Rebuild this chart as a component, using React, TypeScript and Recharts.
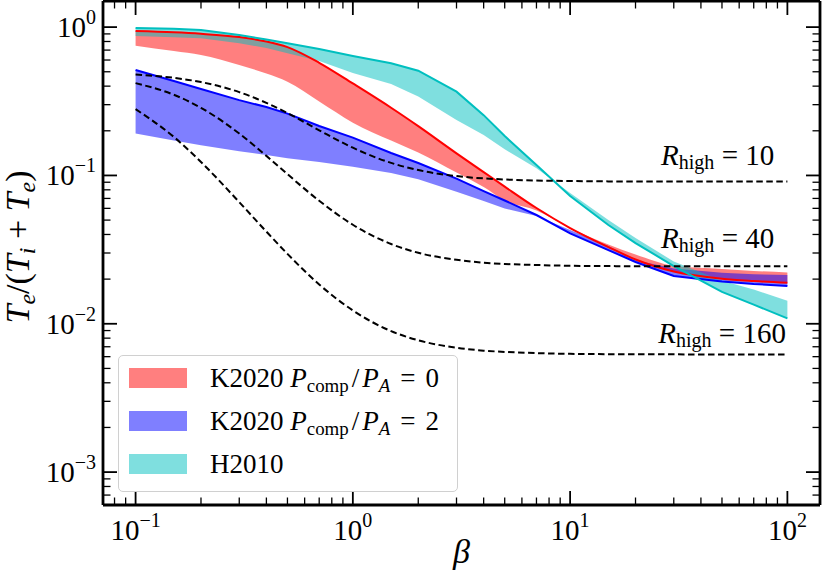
import React from "react";
import { ComposedChart, Area, Line, XAxis, YAxis, Legend, ReferenceDot } from "recharts";

// Te/(Ti+Te) against plasma beta, log-log, three model bands and three R_high curves

const SERIF = "'Liberation Serif', 'DejaVu Serif', serif";

const beta = [0.1, 0.15, 0.2, 0.3, 0.4, 0.5, 0.7, 1, 1.5, 2, 3, 4, 5, 7, 10, 15, 20, 30, 50, 70, 100];

// K2020, P_comp/P_A = 0 (red): solid edge and the other edge of the band
const k0Line = [0.941, 0.922, 0.901, 0.857, 0.8, 0.733, 0.575, 0.417, 0.286, 0.215, 0.141, 0.1054, 0.0841, 0.0603, 0.0442, 0.0329, 0.0271, 0.0225, 0.0201, 0.0194, 0.0189];
const k0Edge = [0.749, 0.689, 0.648, 0.555, 0.486, 0.428, 0.315, 0.227, 0.172, 0.1427, 0.1046, 0.0835, 0.0678, 0.058, 0.0442, 0.0342, 0.0293, 0.0246, 0.0234, 0.0227, 0.0222];

// K2020, P_comp/P_A = 2 (blue)
const k2Line = [0.514, 0.433, 0.383, 0.322, 0.289, 0.261, 0.2155, 0.18, 0.1416, 0.1213, 0.0953, 0.0785, 0.0678, 0.0541, 0.0407, 0.0314, 0.0261, 0.021, 0.0193, 0.01853, 0.018];
const k2Edge = [0.192, 0.172, 0.16, 0.1456, 0.1373, 0.1306, 0.123, 0.1146, 0.1038, 0.0941, 0.0777, 0.0672, 0.0598, 0.0532, 0.0428, 0.0334, 0.0268, 0.0236, 0.0221, 0.0216, 0.0213];

// H2010 (cyan)
const h10Line = [0.985, 0.974, 0.956, 0.885, 0.825, 0.778, 0.711, 0.638, 0.57, 0.508, 0.367, 0.255, 0.1844, 0.1175, 0.0726, 0.0463, 0.035, 0.0245, 0.0164, 0.01346, 0.01087];
const h10Edge = [0.871, 0.855, 0.84, 0.778, 0.723, 0.666, 0.591, 0.49, 0.413, 0.34, 0.2364, 0.187, 0.15, 0.112, 0.0761, 0.05, 0.0378, 0.0263, 0.0195, 0.017, 0.01429];

// R_high curves (dashed)
const rh10 = [0.4787, 0.455, 0.4262, 0.3645, 0.3085, 0.2632, 0.2016, 0.1538, 0.1215, 0.1087, 0.099, 0.0955, 0.0939, 0.0924, 0.0917, 0.0912, 0.0911, 0.091, 0.0909, 0.0909, 0.0909];
const rh40 = [0.4191, 0.3499, 0.2857, 0.1916, 0.1355, 0.102, 0.0675, 0.0465, 0.0345, 0.0301, 0.027, 0.0258, 0.0253, 0.0249, 0.0246, 0.0245, 0.0244, 0.0244, 0.0244, 0.0244, 0.0244];
const rh160 = [0.2798, 0.1819, 0.1232, 0.0661, 0.0418, 0.0296, 0.0184, 0.0123, 0.00892, 0.00774, 0.00689, 0.00659, 0.00646, 0.00634, 0.00627, 0.00624, 0.00623, 0.00622, 0.00621, 0.00621, 0.00621];

const xTicks = [0.08, 0.09, 0.1, 0.2, 0.3, 0.4, 0.5, 0.6, 0.7, 0.8, 0.9, 1, 2, 3, 4, 5, 6, 7, 8, 9, 10, 20, 30, 40, 50, 60, 70, 80, 90, 100];
const yTicks = [0.0007, 0.0008, 0.0009, 0.001, 0.002, 0.003, 0.004, 0.005, 0.006, 0.007, 0.008, 0.009, 0.01, 0.02, 0.03, 0.04, 0.05, 0.06, 0.07, 0.08, 0.09, 0.1, 0.2, 0.3, 0.4, 0.5, 0.6, 0.7, 0.8, 0.9, 1];

const xDomain = [0.0708, 141.3];
const yDomain = [0.0006, 1.5];

const rHighLabels = [
  { beta: 87, value: 0.117, text: "10" },
  { beta: 87, value: 0.0324, text: "40" },
  { beta: 98.5, value: 0.0074, text: "160" },
];

const legendItems = [
  { fill: "rgba(255,0,0,0.5)", ratio: "0" },
  { fill: "rgba(0,0,255,0.5)", ratio: "2" },
  { fill: "rgba(0,191,191,0.5)", ratio: null },
];

const data = beta.map((b, i) => ({
  beta: b,
  k0Band: [k0Edge[i], k0Line[i]],
  k2Band: [k2Edge[i], k2Line[i]],
  h10Band: [h10Edge[i], h10Line[i]],
  k0Line: k0Line[i],
  k2Line: k2Line[i],
  h10Line: h10Line[i],
  rh10: rh10[i],
  rh40: rh40[i],
  rh160: rh160[i],
}));

const expOf = (v: number) => Math.round(Math.log10(v));
const isDecade = (v: number) => Math.abs(Math.log10(v) - expOf(v)) < 1e-9;
const supText = (v: number) => String(expOf(v)).replace("-", "\u2212");

const MAJOR = 14;
const MINOR = 7.5;

function PowerLabel({ x, y, v, anchor }: any) {
  return (
    <text x={x} y={y} textAnchor={anchor} fontFamily={SERIF} fontSize={29} fill="#000">
      10
      <tspan fontSize={20} dy={-13}>
        {supText(v)}
      </tspan>
    </text>
  );
}

function BottomTick(props: any) {
  const { x, y, payload } = props;
  const major = isDecade(payload.value);
  return (
    <g>
      <line x1={x} y1={y} x2={x} y2={y - (major ? MAJOR : MINOR)} stroke="#000" strokeWidth={major ? 1.8 : 1.3} />
      {major && <PowerLabel x={x} y={y + 35} v={payload.value} anchor="middle" />}
    </g>
  );
}

function TopTick(props: any) {
  const { x, y, payload } = props;
  const major = isDecade(payload.value);
  return <line x1={x} y1={y} x2={x} y2={y + (major ? MAJOR : MINOR)} stroke="#000" strokeWidth={major ? 1.8 : 1.3} />;
}

function LeftTick(props: any) {
  const { x, y, payload } = props;
  const major = isDecade(payload.value);
  return (
    <g>
      <line x1={x} y1={y} x2={x + (major ? MAJOR : MINOR)} y2={y} stroke="#000" strokeWidth={major ? 1.8 : 1.3} />
      {major && <PowerLabel x={x - 7} y={y + 10} v={payload.value} anchor="end" />}
    </g>
  );
}

function RightTick(props: any) {
  const { x, y, payload } = props;
  const major = isDecade(payload.value);
  return <line x1={x} y1={y} x2={x - (major ? MAJOR : MINOR)} y2={y} stroke="#000" strokeWidth={major ? 1.8 : 1.3} />;
}

function XLabel(props: any) {
  const vb = props.viewBox || { x: 103, y: 505, width: 717, height: 70 };
  return (
    <text x={vb.x + vb.width / 2} y={vb.y + 58} textAnchor="middle" fontFamily={SERIF} fontStyle="italic" fontSize={34} fill="#000">
      β
    </text>
  );
}

function YLabel(props: any) {
  const vb = props.viewBox || { x: 0, y: 1, width: 103, height: 504 };
  const cx = vb.x + 29;
  const cy = vb.y + vb.height / 2 - 6;
  return (
    <text transform={`translate(${cx},${cy}) rotate(-90)`} textAnchor="middle" fontFamily={SERIF} fontSize={34} fill="#000">
      <tspan fontStyle="italic">T</tspan>
      <tspan fontStyle="italic" fontSize={24} dy={6}>e</tspan>
      <tspan dy={-6}>/(</tspan>
      <tspan fontStyle="italic">T</tspan>
      <tspan fontStyle="italic" fontSize={24} dy={6}>i</tspan>
      <tspan dy={-6}>{"\u00a0+\u00a0"}</tspan>
      <tspan fontStyle="italic">T</tspan>
      <tspan fontStyle="italic" fontSize={24} dy={6}>e</tspan>
      <tspan dy={-6}>)</tspan>
    </text>
  );
}

function RHighText(props: any) {
  const { cx, cy, text } = props;
  return (
    <text x={cx} y={cy} textAnchor="end" fontFamily={SERIF} fontSize={29} fill="#000">
      <tspan fontStyle="italic">R</tspan>
      <tspan fontSize={20} dy={4}>high</tspan>
      <tspan dy={-4}>{"\u00a0=\u00a0" + text}</tspan>
    </text>
  );
}

const sub: React.CSSProperties = { fontSize: "0.7em", position: "relative", top: "0.28em" };

function LegendBox() {
  return (
    <div
      style={{
        boxSizing: "border-box",
        width: 340,
        height: 137,
        border: "1px solid #d0d0d0",
        borderRadius: 5,
        background: "rgba(255,255,255,0.8)",
        fontFamily: SERIF,
        fontSize: 27,
        color: "#000",
        position: "relative",
      }}
    >
      {legendItems.map((item, i) => (
        <div
          key={i}
          style={{ position: "absolute", left: 10, top: 12 + i * 43, height: 20, display: "flex", alignItems: "center", whiteSpace: "nowrap" }}
        >
          <span style={{ display: "inline-block", width: 58, height: 20, background: item.fill }} />
          <span style={{ marginLeft: 23, lineHeight: 1 }}>
            {item.ratio === null ? (
              "H2010"
            ) : (
              <>
                K2020 <i>P</i>
                <span style={sub}>comp</span>
                <span style={{ margin: "0 3px" }}>/</span>
                <i>P</i>
                <span style={{ ...sub, fontStyle: "italic" }}>A</span>
                <span style={{ margin: "0 10px" }}>=</span>
                {item.ratio}
              </>
            )}
          </span>
        </div>
      ))}
    </div>
  );
}

export default function App() {
  const frame = { stroke: "#000", strokeWidth: 2.8 };
  return (
    <div style={{ position: "absolute", left: 0, top: 0, width: 822, height: 575, background: "#fff" }}>
      <ComposedChart width={822} height={575} data={data} margin={{ top: 1, right: 2, bottom: 0, left: 0 }}>
        <Area dataKey="k0Band" type="monotone" stroke="none" fill="#ff0000" fillOpacity={0.5} dot={false} activeDot={false} isAnimationActive={false} />
        <Area dataKey="k2Band" type="linear" stroke="none" fill="#0000ff" fillOpacity={0.5} dot={false} activeDot={false} isAnimationActive={false} />
        <Area dataKey="h10Band" type="linear" stroke="none" fill="#00bfbf" fillOpacity={0.5} dot={false} activeDot={false} isAnimationActive={false} />
        <Line dataKey="k0Line" type="monotone" stroke="#ff0000" strokeWidth={2} dot={false} activeDot={false} isAnimationActive={false} />
        <Line dataKey="k2Line" type="linear" stroke="#0000ff" strokeWidth={2} dot={false} activeDot={false} isAnimationActive={false} />
        <Line dataKey="h10Line" type="linear" stroke="#00bfbf" strokeWidth={2} dot={false} activeDot={false} isAnimationActive={false} />
        <Line dataKey="rh10" type="monotone" stroke="#000" strokeWidth={2} strokeDasharray="6.5 3.5" dot={false} activeDot={false} isAnimationActive={false} />
        <Line dataKey="rh40" type="monotone" stroke="#000" strokeWidth={2} strokeDasharray="6.5 3.5" dot={false} activeDot={false} isAnimationActive={false} />
        <Line dataKey="rh160" type="monotone" stroke="#000" strokeWidth={2} strokeDasharray="6.5 3.5" dot={false} activeDot={false} isAnimationActive={false} />

        {rHighLabels.map((l) => (
          <ReferenceDot key={l.text} x={l.beta} y={l.value} r={1} shape={(p: any) => <RHighText {...p} text={l.text} />} />
        ))}

        <XAxis
          dataKey="beta"
          type="number"
          scale="log"
          domain={xDomain}
          allowDataOverflow
          ticks={xTicks}
          interval={0}
          height={70}
          tickLine={false}
          tickSize={0}
          tickMargin={0}
          tick={(p: any) => <BottomTick {...p} />}
          axisLine={frame}
          label={(p: any) => <XLabel {...p} />}
        />
        <XAxis
          xAxisId="top"
          orientation="top"
          mirror
          dataKey="beta"
          type="number"
          scale="log"
          domain={xDomain}
          allowDataOverflow
          ticks={xTicks}
          interval={0}
          tickLine={false}
          tickSize={0}
          tickMargin={0}
          tick={(p: any) => <TopTick {...p} />}
          axisLine={frame}
        />
        <YAxis
          type="number"
          scale="log"
          domain={yDomain}
          allowDataOverflow
          ticks={yTicks}
          interval={0}
          width={103}
          tickLine={false}
          tickSize={0}
          tickMargin={0}
          tick={(p: any) => <LeftTick {...p} />}
          axisLine={frame}
          label={(p: any) => <YLabel {...p} />}
        />
        <YAxis
          yAxisId="right"
          orientation="right"
          mirror
          type="number"
          scale="log"
          domain={yDomain}
          allowDataOverflow
          ticks={yTicks}
          interval={0}
          tickLine={false}
          tickSize={0}
          tickMargin={0}
          tick={(p: any) => <RightTick {...p} />}
          axisLine={frame}
        />
        <Legend
          layout="vertical"
          align="center"
          verticalAlign="middle"
          wrapperStyle={{ left: 118, top: 355, width: 340, height: 137 }}
          content={() => <LegendBox />}
        />
      </ComposedChart>
    </div>
  );
}
